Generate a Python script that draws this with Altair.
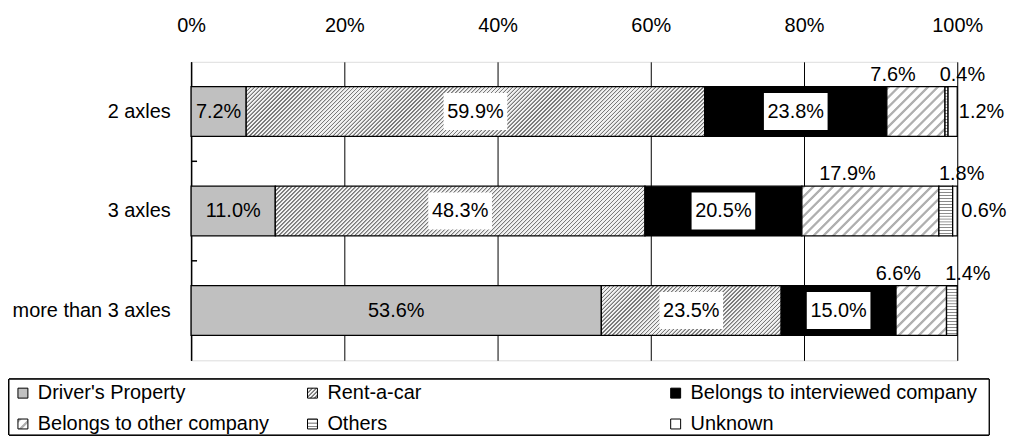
import altair as alt

# ---------------- data ----------------
rows = ["2 axles", "3 axles", "more than 3 axles"]
categories = ["Driver's Property", "Rent-a-car", "Belongs to interviewed company",
              "Belongs to other company", "Others", "Unknown"]
values_2_axles = [7.2, 59.9, 23.8, 7.6, 0.4, 1.2]
values_3_axles = [11.0, 48.3, 20.5, 17.9, 1.8, 0.6]
values_more_3 = [53.6, 23.5, 15.0, 6.6, 1.4, 0.0]
x_ticks = [0, 0.2, 0.4, 0.6, 0.8, 1.0]

# ---------------- styling ----------------
FONT = "Liberation Sans"
PLOT_W = 770
PLOT_H = 300
BAR_H = 50

# pattern per category: (kind, dark colour, light colour, period px, duty)
patterns = {
    "Driver's Property": ("solid", "#c0c0c0"),
    "Rent-a-car": ("diag", "#7a7a7a", "#f2f2f2", 4.0, 0.5),
    "Belongs to interviewed company": ("solid", "#000000"),
    "Belongs to other company": ("diag", "#b0b0b0", "#ffffff", 10.0, 0.45),
    "Others": ("horiz", "#8a8a8a", "#ffffff", 3.0, 0.45),
    "Unknown": ("solid", "#ffffff"),
}
placement = {
    "Driver's Property": "in",
    "Rent-a-car": "inbox",
    "Belongs to interviewed company": "inbox",
    "Belongs to other company": "above_left",
    "Others": "above_right",
    "Unknown": "right",
}


def stripe_stops(n, dark, light, duty):
    stops = []
    n_int = max(1, int(round(n)))
    for k in range(n_int):
        a = k / n_int
        b = (k + duty) / n_int
        c = (k + 1) / n_int
        eps = 0.12 / n_int
        stops += [{"offset": a, "color": light},
                  {"offset": a + eps, "color": dark},
                  {"offset": b - eps, "color": dark},
                  {"offset": b, "color": light},
                  {"offset": c, "color": light}]
    return stops


def make_fill(cat, w, h):
    p = patterns[cat]
    if p[0] == "solid":
        return p[1]
    kind, dark, light, period, duty = p
    if kind == "diag":
        s = (w + h) / (w * w + h * h)
        return {"gradient": "linear", "x1": 0, "y1": 0,
                "x2": s * w, "y2": s * h,
                "stops": stripe_stops((w + h) / period, dark, light, duty)}
    # horizontal lines
    return {"gradient": "linear", "x1": 1, "y1": 0, "x2": 1, "y2": 1,
            "stops": stripe_stops(h / period, dark, light, duty)}


records = []
for row, vals in zip(rows, [values_2_axles, values_3_axles, values_more_3]):
    total = sum(vals)
    for i, (cat, v) in enumerate(zip(categories, vals)):
        if v <= 0:
            continue
        w = max(v / total * PLOT_W, 0.5)
        records.append({
            "row": row, "category": cat, "order": i, "value": v,
            "label": f"{v:.1f}%", "place": placement[cat],
            "pattern": make_fill(cat, w, BAR_H),
        })

base = alt.Chart(alt.Data(values=records)).transform_stack(
    stack="value", groupby=["row"], as_=["x0", "x1"], offset="normalize",
    sort=[alt.SortField("order", order="ascending")]
).transform_calculate(mid="(datum.x0 + datum.x1) / 2")

xscale = alt.Scale(domain=[0, 1], nice=False, zero=True)
yscale = alt.Scale(domain=rows, paddingInner=0.5, paddingOuter=0.25)

bars = base.mark_bar(stroke="black", strokeWidth=1.3).encode(
    x=alt.X("x0:Q", scale=xscale,
            axis=alt.Axis(orient="top", values=x_ticks, format=".0%", title=None,
                          ticks=False, domain=False, grid=True, gridColor="black",
                          gridWidth=1, labelFontSize=20, labelFont=FONT,
                          labelColor="black", labelPadding=26, labelFlush=False)),
    x2="x1:Q",
    y=alt.Y("row:N", scale=yscale, sort=rows,
            axis=alt.Axis(title=None, ticks=False, domain=True, domainColor="black",
                          domainWidth=1.5, labelFontSize=20, labelFont=FONT,
                          labelColor="black", labelPadding=21)),
    fill=alt.Fill("pattern:N", scale=None),
)

ticks = alt.Chart(alt.Data(values=[{"row": r} for r in rows[1:]])).mark_rule(
    color="black", strokeWidth=1.5, yOffset=-50
).encode(y=alt.Y("row:N", scale=yscale, sort=rows), x=alt.value(0), x2=alt.value(6))

boxes = base.transform_filter("datum.place == 'inbox'").mark_point(
    shape="M-1,-0.58L1,-0.58L1,0.58L-1,0.58Z", size=4096, filled=True,
    fill="white", opacity=1, strokeWidth=0
).encode(x="mid:Q", y=alt.Y("row:N", sort=rows))

text_kw = dict(font=FONT, fontSize=20, color="black", baseline="middle")
t_in = base.transform_filter("datum.place == 'in' || datum.place == 'inbox'").mark_text(
    **text_kw).encode(x="mid:Q", y=alt.Y("row:N", sort=rows), text="label:N")
t_above_l = base.transform_filter("datum.place == 'above_left'").mark_text(
    dx=-23, dy=-37, **text_kw).encode(x="mid:Q", y=alt.Y("row:N", sort=rows), text="label:N")
t_above_r = base.transform_filter("datum.place == 'above_right'").mark_text(
    dx=16, dy=-37, **text_kw).encode(x="mid:Q", y=alt.Y("row:N", sort=rows), text="label:N")
t_right = base.transform_filter("datum.place == 'right'").mark_text(
    dx=29, **text_kw).encode(x="mid:Q", y=alt.Y("row:N", sort=rows), text="label:N")

main = alt.layer(bars, ticks, boxes, t_in, t_above_l, t_above_r, t_right).properties(
    width=PLOT_W, height=PLOT_H)

# ---------------- legend panel (placed under the whole chart) ----------------
leg_records = []
for i, cat in enumerate(categories):
    leg_records.append({"label": cat, "col": i % 3, "lrow": i // 3,
                        "sym": make_fill(cat, 10, 10)})

leg_x = alt.Scale(domain=[0, 1, 2], range=[-169, 122, 487])
leg_y = alt.Scale(domain=[0, 1], range=[14, 45])
leg_base = alt.Chart(alt.Data(values=leg_records))
frame = leg_base.mark_rect(fill="white", stroke="black", strokeWidth=1).encode(
    x=alt.value(-183), x2=alt.value(802), y=alt.value(0), y2=alt.value(56))
leg_sym = leg_base.mark_square(size=100, stroke="black", strokeWidth=1, opacity=1).encode(
    x=alt.X("col:Q", scale=leg_x, axis=None),
    y=alt.Y("lrow:Q", scale=leg_y, axis=None),
    fill=alt.Fill("sym:N", scale=None),
)
leg_txt = leg_base.mark_text(align="left", dx=15, **text_kw).encode(
    x=alt.X("col:Q", scale=leg_x, axis=None),
    y=alt.Y("lrow:Q", scale=leg_y, axis=None),
    text="label:N",
)
legend = alt.layer(frame, leg_sym, leg_txt).properties(
    width=600, height=56, view=alt.ViewBackground(stroke="transparent"))

chart = alt.vconcat(main, legend, spacing=17).properties(
    padding={"left": 0, "top": 6, "right": 0, "bottom": 0}
).configure_view(stroke="black", strokeWidth=1).configure(background="white")

chart.save("out.html", embed_options={"renderer": "svg", "actions": False})
